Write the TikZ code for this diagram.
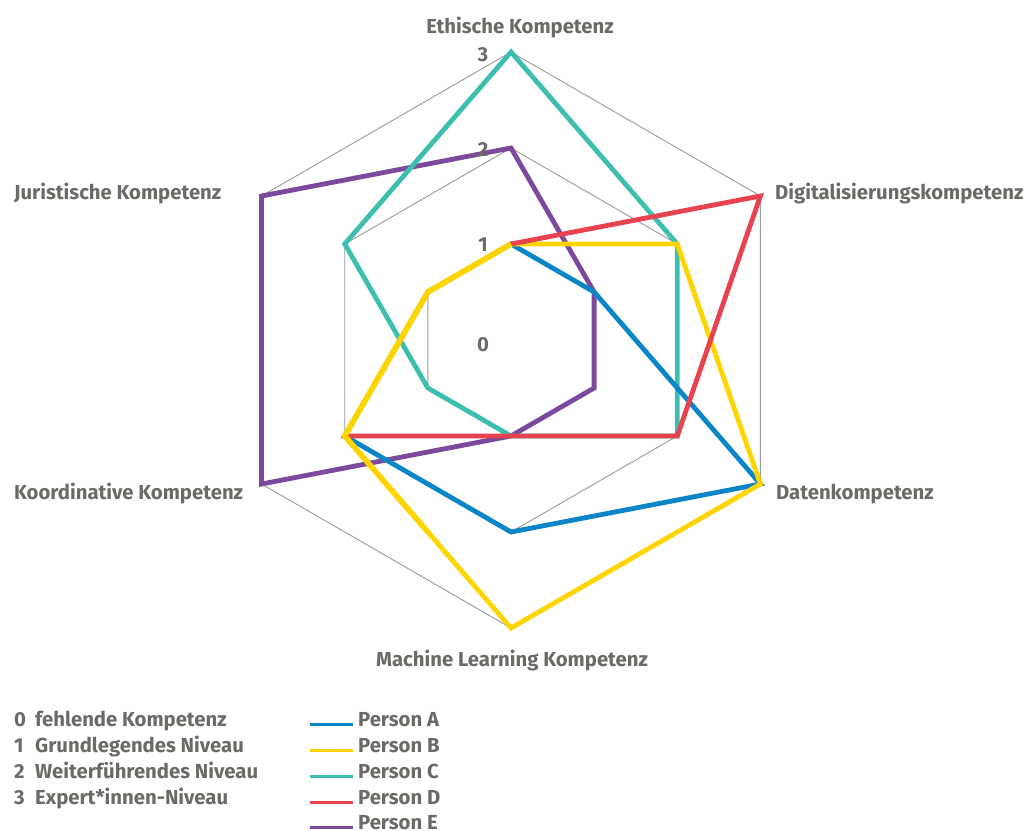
\documentclass[tikz,border=0pt]{standalone}
\usepackage{fontspec}
\usetikzlibrary{calc}
\setmainfont{Fira Sans}
\definecolor{txt}{HTML}{6B6A66}
\definecolor{gridc}{HTML}{9A9A9A}
\definecolor{pA}{HTML}{0A86C8}
\definecolor{pB}{HTML}{FFD500}
\definecolor{pC}{HTML}{3CBFAE}
\definecolor{pD}{HTML}{E8424F}
\definecolor{pE}{HTML}{7B4A9C}
\tikzset{
  lbl/.style={font=\fontsize{20.3}{22}\selectfont\bfseries, text=txt, inner sep=0pt},
  gridline/.style={draw=gridc, line width=0.9pt},
  series/.style={line width=4.8pt, line join=miter, miter limit=10},
}
\newcommand{\radar}[7]{%
  \draw[series, draw=#1] (90:{96*#2}) -- (30:{96*#3}) -- (-30:{96*#4}) -- (-90:{96*#5}) -- (210:{96*#6}) -- (150:{96*#7}) -- cycle;}
\begin{document}
\begin{tikzpicture}[x=1pt,y=1pt]
\useasboundingbox (-511,-490) rectangle (516,340);
% grid
\foreach \l in {1,2,3}{
  \draw[gridline] (90:{96*\l}) -- (30:{96*\l}) -- (-30:{96*\l}) -- (-90:{96*\l}) -- (210:{96*\l}) -- (150:{96*\l}) -- cycle;
}
% series
\radar{pE}{2}{1}{1}{1}{3}{3}
\radar{pC}{3}{2}{2}{1}{1}{2}
\radar{pA}{1}{1}{3}{2}{2}{1}
\radar{pB}{1}{2}{3}{3}{2}{1}
\radar{pD}{1}{3}{2}{1}{2}{1}
% yellow lies on top on the left side
\coordinate (ymid) at ($(-90:{96*3})!0.5!(210:{96*2})$);
\draw[series, line width=5.6pt, draw=pB] (ymid) -- (210:{96*2}) -- (150:96) -- (90:96);
% level numbers
\node[lbl, anchor=base] (n3) at (-28,278) {3};
\node[lbl, anchor=base] (n2) at (-28,183) {2};
\node[lbl, anchor=base] (n1) at (-28,89) {1};
\node[lbl, anchor=base] (n0) at (-28,-11) {0};
% axis labels
\node[lbl, anchor=base] (ax1) at (9,306) {Ethische Kompetenz};
\node[lbl, anchor=base west] (ax2) at (264,141) {Digitalisierungskompetenz};
\node[lbl, anchor=base west] (ax3) at (265,-159) {Datenkompetenz};
\node[lbl, anchor=base] (ax4) at (1,-326) {Machine Learning Kompetenz};
\node[lbl, anchor=base west] (ax5) at (-497,-159) {Koordinative Kompetenz};
\node[lbl, anchor=base west] (ax6) at (-497,141) {Juristische Kompetenz};
% legend left
\foreach \n/\t/\yy in {0/fehlende Kompetenz/-386, 1/Grundlegendes Niveau/-412, 2/Weiterführendes Niveau/-438, 3/Expert*innen-Niveau/-464}{
  \node[lbl, anchor=base west] (lv\n) at (-497,\yy) {\n};
  \node[lbl, anchor=base west] (lt\n) at (-476,\yy) {\t};
}
% legend right
\foreach \c/\p/\yy in {pA/A/-386, pB/B/-412, pC/C/-438, pD/D/-464, pE/E/-489}{
  \coordinate (ls\p) at (-201,\yy+2);
  \coordinate (le\p) at (-158,\yy+2);
  \draw[draw=\c, line width=3pt] (ls\p) -- (le\p);
  \node[lbl, anchor=base west] (lp\p) at (-153,\yy) {Person \p};
}
\end{tikzpicture}
\end{document}
